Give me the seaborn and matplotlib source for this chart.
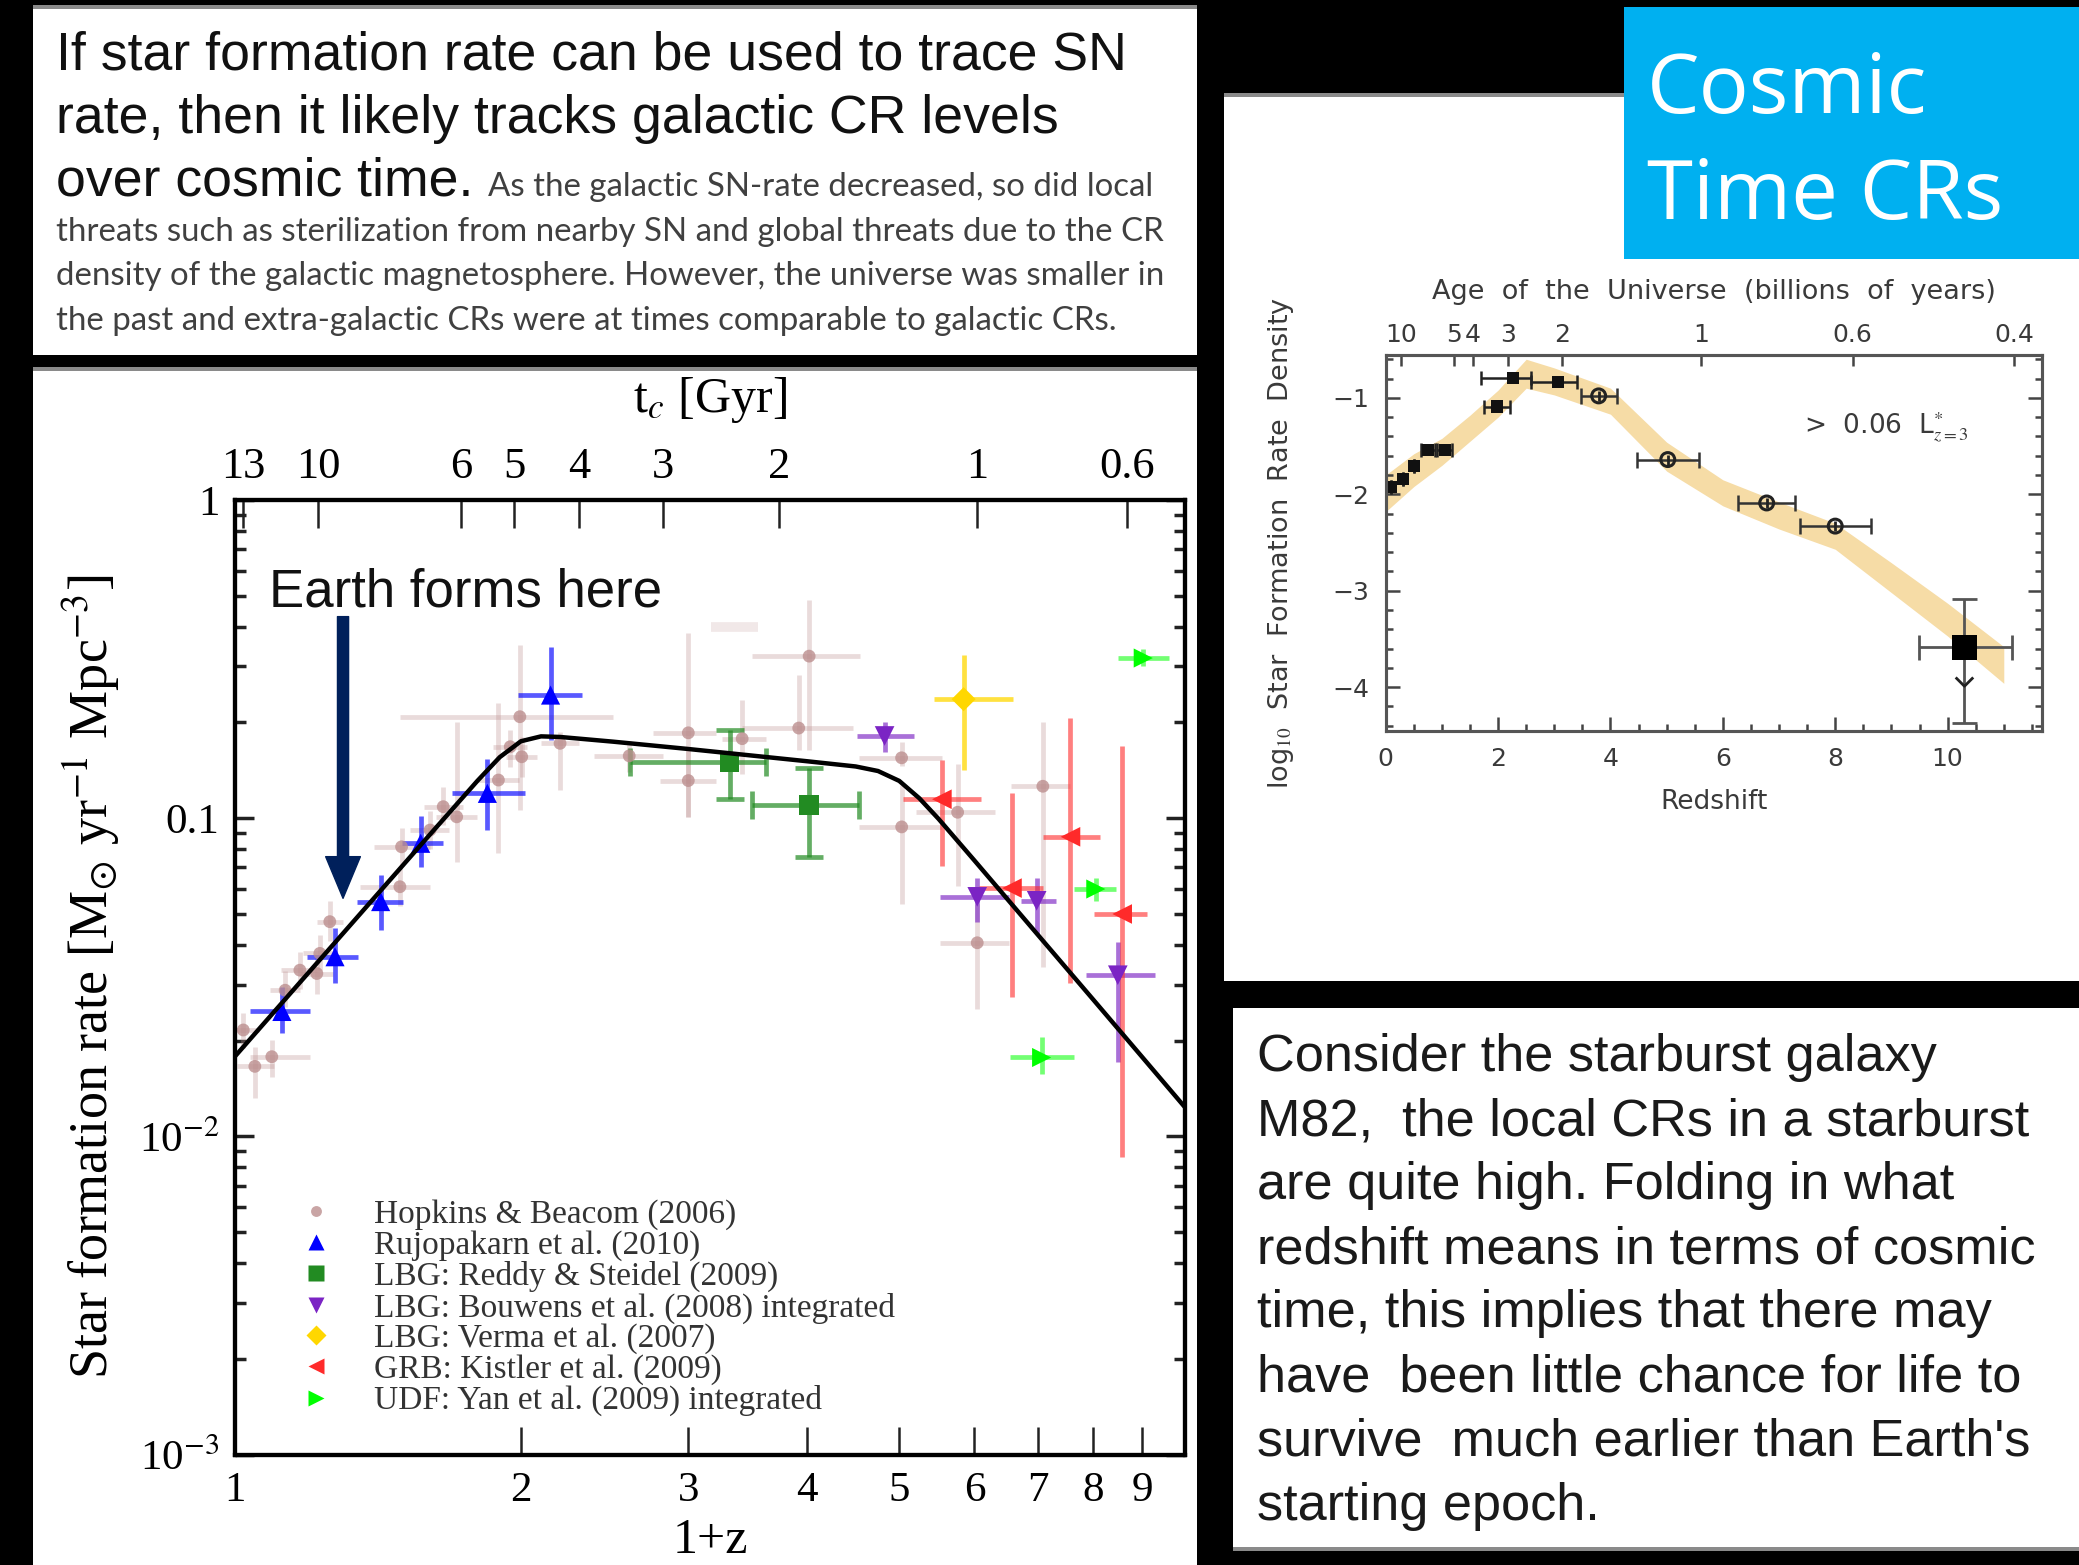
import numpy as np
import pandas as pd
import matplotlib
matplotlib.use("Agg")
import matplotlib.pyplot as plt
import seaborn as sns
from matplotlib.patches import Rectangle
from matplotlib.lines import Line2D
from matplotlib.ticker import FixedLocator, FixedFormatter, NullLocator, MultipleLocator, NullFormatter, LogLocator

plt.rcParams['mathtext.fontset'] = 'stix'

# ---------------- data: main panel (1+z, SFR [Msun/yr/Mpc^3]) ----------------
fit_x = [1.0, 1.2, 1.4, 1.6, 1.8, 1.9, 2.0, 2.1, 2.2, 2.5, 3.0, 4.0, 4.5, 4.75, 5.0, 5.25, 5.5, 6.0, 7.0, 8.0, 9.0, 10.0]
fit_y = [0.0178, 0.0331, 0.0559, 0.088, 0.131, 0.1555, 0.1745, 0.1808, 0.180, 0.174, 0.165, 0.151, 0.1454, 0.1407,
         0.131, 0.1155, 0.0995, 0.0736, 0.0429, 0.0269, 0.0178, 0.0123]

hb_x   = [1.05, 1.094, 1.021, 1.13, 1.171, 1.22, 1.229, 1.259, 1.492, 1.498, 1.605, 1.657, 1.712, 1.995, 1.894,
          1.949, 2.004, 2.199, 2.6, 3.0, 3.0, 3.418, 4.02, 3.92, 5.029, 5.03, 5.76, 7.08, 6.04]
hb_y   = [0.0166, 0.0178, 0.0216, 0.0288, 0.0333, 0.0325, 0.0376, 0.0473, 0.0609, 0.0813, 0.0918, 0.1087, 0.101,
          0.2084, 0.1318, 0.1677, 0.156, 0.1719, 0.157, 0.1855, 0.1313, 0.1778, 0.3231, 0.192, 0.1548, 0.0939,
          0.1044, 0.126, 0.0406]
hb_xlo = [1.005, 1.038, 1.0, 1.09, 1.12, 1.17, 1.18, 1.22, 1.355, 1.40, 1.53, 1.58, 1.63, 1.492, 1.80,
          1.87, 1.93, 2.10, 2.39, 2.755, 2.80, 3.258, 3.50, 3.417, 4.535, 4.535, 5.21, 6.556, 5.52]
hb_xhi = [1.10, 1.20, 1.06, 1.17, 1.22, 1.27, 1.28, 1.30, 1.606, 1.606, 1.68, 1.74, 1.80, 2.50, 1.99,
          2.03, 2.08, 2.30, 2.82, 3.212, 3.212, 3.62, 4.55, 4.468, 5.544, 5.544, 6.31, 7.565, 6.52]
hb_ylo = [0.0132, 0.0154, 0.019, 0.0255, 0.029, 0.028, 0.033, 0.041, 0.053, 0.071, 0.080, 0.095, 0.073,
          0.106, 0.0775, 0.145, 0.135, 0.1227, 0.14, 0.1009, 0.101, 0.138, 0.164, 0.164, 0.1463, 0.0537,
          0.0611, 0.034, 0.0252]
hb_yhi = [0.0191, 0.0201, 0.0245, 0.033, 0.038, 0.037, 0.043, 0.055, 0.070, 0.093, 0.105, 0.125, 0.201,
          0.35, 0.2297, 0.19, 0.18, 0.187, 0.175, 0.3817, 0.164, 0.2345, 0.4867, 0.2825, 0.1737, 0.1268,
          0.1484, 0.2005, 0.0537]
# faint Hopkins & Beacom bar without a visible marker
hbf_x, hbf_y, hbf_xlo, hbf_xhi = [3.35], [0.398], [3.17], [3.55]

ru_x   = [1.121, 1.275, 1.424, 1.569, 1.844, 2.149]
ru_y   = [0.0247, 0.0367, 0.0547, 0.0834, 0.1197, 0.2438]
ru_xlo = [1.038, 1.19, 1.344, 1.498, 1.691, 1.988]
ru_xhi = [1.200, 1.349, 1.504, 1.657, 2.02, 2.317]
ru_ylo = [0.0211, 0.0303, 0.0445, 0.0704, 0.0918, 0.176]
ru_yhi = [0.0295, 0.0451, 0.0663, 0.1016, 0.154, 0.346]

rs_x   = [3.315, 4.02]
rs_y   = [0.1497, 0.110]
rs_xlo = [2.602, 3.50]
rs_xhi = [3.62, 4.535]
rs_ylo = [0.1149, 0.0757]
rs_yhi = [0.1893, 0.1442]

bw_x   = [4.826, 6.04, 6.975, 8.49]
bw_y   = [0.1813, 0.0566, 0.055, 0.0321]
bw_xlo = [4.51, 5.52, 6.714, 7.86]
bw_xhi = [5.185, 6.525, 7.317, 9.30]
bw_ylo = [0.1617, 0.0472, 0.0434, 0.0171]
bw_yhi = [0.2005, 0.0647, 0.0647, 0.0409]

vm_x   = [5.844]
vm_y   = [0.2366]
vm_xlo = [5.44]
vm_xhi = [6.59]
vm_ylo = [0.142]
vm_yhi = [0.326]

ki_x   = [5.544, 6.57, 7.57, 8.58]
ki_y   = [0.1147, 0.0603, 0.0874, 0.050]
ki_xlo = [5.04, 6.07, 7.08, 8.01]
ki_xhi = [6.10, 7.08, 8.13, 9.12]
ki_ylo = [0.0706, 0.0274, 0.0303, 0.00861]
ki_yhi = [0.1525, 0.1197, 0.2062, 0.1688]

ya_x   = [9.03, 8.05, 7.06]
ya_y   = [0.3187, 0.0599, 0.0177]
ya_xlo = [8.49, 7.64, 6.54]
ya_xhi = [9.62, 8.45, 7.63]
ya_ylo = [0.30, 0.055, 0.0157]
ya_yhi = [0.34, 0.065, 0.0206]

x_ticks = [1, 2, 3, 4, 5, 6, 7, 8, 9]
y_ticks = [1e-3, 1e-2, 1e-1, 1]
y_labels = ['10$^{-3}$', '10$^{-2}$', '0.1', '1']
tc_labels = ['13', '10', '6', '5', '4', '3', '2', '1', '0.6']
tc_pos = [1.02, 1.224, 1.732, 1.968, 2.305, 2.82, 3.74, 6.04, 8.68]

legend_labels = ['Hopkins & Beacom (2006)', 'Rujopakarn et al. (2010)', 'LBG: Reddy & Steidel (2009)',
                 'LBG: Bouwens et al. (2008) integrated', 'LBG: Verma et al. (2007)',
                 'GRB: Kistler et al. (2009)', 'UDF: Yan et al. (2009) integrated']

# ---------------- data: right panel (redshift, log10 SFRD) ----------------
band_z  = [0.0, 0.5, 1.0, 1.5, 2.0, 2.5, 3.0, 4.0, 5.0, 6.0, 7.0, 8.0, 9.0, 10.0, 11.0]
band_lo = [-2.18, -1.92, -1.70, -1.45, -1.20, -0.90, -0.97, -1.17, -1.76, -2.12, -2.36, -2.57, -3.02, -3.47, -3.96]
band_hi = [-1.80, -1.58, -1.42, -1.18, -0.92, -0.60, -0.69, -0.90, -1.46, -1.85, -2.08, -2.30, -2.71, -3.13, -3.58]

lowz_z  = [0.1, 0.3, 0.5, 0.75, 1.05, 1.98, 2.27, 3.06]
lowz_y  = [-1.92, -1.84, -1.71, -1.54, -1.54, -1.09, -0.79, -0.84]
lowz_zlo = [0.1, 0.3, 0.5, 0.62, 0.92, 1.75, 1.69, 2.59]
lowz_zhi = [0.1, 0.3, 0.5, 0.88, 1.18, 2.22, 2.59, 3.41]

hiz_z   = [3.79, 5.02, 6.78, 8.0]
hiz_y   = [-0.98, -1.64, -2.09, -2.33]
hiz_zlo = [3.47, 4.47, 6.27, 7.37]
hiz_zhi = [4.12, 5.57, 7.29, 8.63]

z10_z, z10_y = [10.3], [-3.585]
z10_zlo, z10_zhi = [9.49], [11.14]
z10_ylo, z10_yhi = [-4.37], [-3.09]
z10_limit = [-3.99]

age_labels = ['10', '5', '4', '3', '2', '1', '0.6', '0.4']
age_pos = [0.275, 1.216, 1.545, 2.17, 3.14, 5.61, 8.31, 11.18]

# ---------------- text ----------------
intro_big = ['If star formation rate can be used to trace SN',
             'rate, then it likely tracks galactic CR levels',
             'over cosmic time.']
intro_small = ['As the galactic SN-rate decreased, so did local',
               'threats such as sterilization from nearby SN and global threats due to the CR',
               'density of the galactic magnetosphere. However, the universe was smaller in',
               'the past and extra-galactic CRs were at times comparable to galactic CRs.']
m82_lines = ['Consider the starburst galaxy',
             'M82,  the local CRs in a starburst',
             'are quite high. Folding in what',
             'redshift means in terms of cosmic',
             'time, this implies that there may',
             'have  been little chance for life to',
             'survive  much earlier than Earth\'s',
             'starting epoch.']

# ---------------- figure ----------------
W, H = 2079, 1565
fig = plt.figure(figsize=(W / 100, H / 100), dpi=100, facecolor='black')


def fx(px):
    return px / W


def fy(py):
    return 1 - py / H


def panel(x0, y0, x1, y1, color='white', z=-5):
    fig.patches.append(Rectangle((fx(x0), fy(y1)), (x1 - x0) / W, (y1 - y0) / H,
                                 transform=fig.transFigure, color=color, zorder=z, lw=0))


panel(33, 7, 1197, 355)
panel(33, 369, 1197, 1565)
panel(1224, 95, 2079, 981)
panel(1233, 1008, 2079, 1549)
for (x0, y0, x1, y1) in [(33, 5, 1197, 9), (33, 367, 1197, 371), (1224, 93, 2079, 97), (1233, 1547, 2079, 1551)]:
    panel(x0, y0, x1, y1, color='#8a8a8a', z=-4)
panel(1624, 7, 2079, 259, color='#00b0f0', z=-3)

# text blocks
for i, s in enumerate(intro_big):
    fig.text(fx(56), fy(69 + 63.5 * i), s, fontsize=38.6, family='Liberation Sans', color='#111111',
             va='baseline')
fig.text(fx(488), fy(196), intro_small[0], fontsize=23.8, family='Lato', color='#404040', va='baseline')
for i, s in enumerate(intro_small[1:]):
    fig.text(fx(56), fy(241 + 44.3 * i), s, fontsize=23.8, family='Lato', color='#404040', va='baseline')

fig.text(fx(1647), fy(113), 'Cosmic', fontsize=60, family='Open Sans', color='white', va='baseline')
fig.text(fx(1647), fy(219), 'Time CRs', fontsize=60, family='Open Sans', color='white', va='baseline')

for i, s in enumerate(m82_lines):
    fig.text(fx(1257), fy(1071 + 64.1 * i), s, fontsize=37.6, family='Liberation Sans', color='#1a1a1a',
             va='baseline')

# ---------------- main axes ----------------
ax = fig.add_axes([234.7 / W, 1 - 1454.6 / H, 950.7 / W, 954.6 / H])
ax.set_facecolor('white')
ax.set_xscale('log')
ax.set_yscale('log')


def ebars(a, x, y, xlo, xhi, ylo, yhi, color, alpha, lw, cap=0, z=2):
    x = np.asarray(x, float); y = np.asarray(y, float)
    xe = [np.clip(x - np.asarray(xlo), 0, None), np.clip(np.asarray(xhi) - x, 0, None)]
    ye = [np.clip(y - np.asarray(ylo), 0, None), np.clip(np.asarray(yhi) - y, 0, None)]
    a.errorbar(x, y, xerr=xe, yerr=ye, fmt='none', ecolor=color, alpha=alpha, elinewidth=lw,
               capsize=cap, capthick=lw, zorder=z)


series = [
    (hb_x, hb_y, hb_xlo, hb_xhi, hb_ylo, hb_yhi, '#bc8f8f', 'o', 85, 0.32, 0.8, 0),
    (ru_x, ru_y, ru_xlo, ru_xhi, ru_ylo, ru_yhi, '#0000ff', '^', 190, 0.65, 1.0, 0),
    (rs_x, rs_y, rs_xlo, rs_xhi, rs_ylo, rs_yhi, '#228b22', 's', 200, 0.7, 1.0, 10),
    (bw_x, bw_y, bw_xlo, bw_xhi, bw_ylo, bw_yhi, '#7b24c4', 'v', 200, 0.65, 1.0, 0),
    (vm_x, vm_y, vm_xlo, vm_xhi, vm_ylo, vm_yhi, '#ffd700', 'D', 150, 0.75, 1.0, 0),
    (ki_x, ki_y, ki_xlo, ki_xhi, ki_ylo, ki_yhi, '#ff2a2a', '<', 200, 0.6, 1.0, 0),
    (ya_x, ya_y, ya_xlo, ya_xhi, ya_ylo, ya_yhi, '#00ff00', '>', 190, 0.55, 1.0, 0),
]
ebars(ax, hbf_x, hbf_y, hbf_xlo, hbf_xhi, hbf_y, hbf_y, '#bc8f8f', 0.2, 7, z=1.9)
for k, (x, y, xlo, xhi, ylo, yhi, col, mk, sz, ea, ma, cap) in enumerate(series):
    ebars(ax, x, y, xlo, xhi, ylo, yhi, col, ea, 3.4, cap=cap, z=2 + k * 0.1)
    df = pd.DataFrame({'x': x, 'y': y})
    sns.scatterplot(data=df, x='x', y='y', ax=ax, marker=mk, color=col, s=sz, edgecolor='none',
                    alpha=ma, legend=False, zorder=3 + k * 0.1)

fit_df = pd.DataFrame({'x': fit_x, 'y': fit_y})
sns.lineplot(data=fit_df, x='x', y='y', ax=ax, color='black', lw=3.2, sort=False, estimator=None, zorder=5)

ax.set_xlim(1, 10)
ax.set_ylim(1e-3, 1)
ax.xaxis.set_major_locator(FixedLocator(x_ticks))
ax.xaxis.set_major_formatter(FixedFormatter([str(t) for t in x_ticks]))
ax.xaxis.set_minor_locator(NullLocator())
ax.yaxis.set_major_locator(FixedLocator(y_ticks))
ax.yaxis.set_major_formatter(FixedFormatter(y_labels))
ax.yaxis.set_minor_locator(LogLocator(base=10, subs=np.arange(2, 10)))
ax.yaxis.set_minor_formatter(NullFormatter())
ax.tick_params(axis='x', which='major', direction='in', length=20, width=1.8, top=False, bottom=True,
               labelsize=31, pad=12, labelfontfamily='Liberation Serif', color='#222222')
ax.tick_params(axis='y', which='major', direction='in', length=14, width=2.5, left=True, right=True,
               labelsize=31, pad=11, labelfontfamily='Liberation Serif', color='#222222')
ax.tick_params(axis='y', which='minor', direction='in', length=8, width=2.5, left=True, right=True,
               color='#222222')
for sp in ax.spines.values():
    sp.set_linewidth(3)
    sp.set_color('black')

ax.set_xlabel('1+z', fontsize=36, family='Liberation Serif')
ax.xaxis.set_label_coords(0.5, -0.066)
ax.set_ylabel('Star formation rate [M$_{\\odot}$ yr$^{-1}$ Mpc$^{-3}$]', fontsize=39, family='Liberation Serif')
ax.yaxis.set_label_coords(-0.118, 0.5)

ax.text(0.036, 0.888, 'Earth forms here', transform=ax.transAxes, fontsize=38, family='Liberation Sans',
        color='#111111', va='baseline', zorder=6)
ax.annotate('', xy=(1.30, 0.056), xytext=(1.30, 0.43),
            arrowprops=dict(facecolor='#00205b', edgecolor='#00205b', width=8, headwidth=25, headlength=30),
            zorder=6)

handles = []
for (x, y, xlo, xhi, ylo, yhi, col, mk, sz, ea, ma, cap) in series:
    handles.append(Line2D([], [], ls='none', marker=mk, color=col, markersize=np.sqrt(sz) * 0.85,
                          markeredgecolor='none', alpha=ma))
leg = ax.legend(handles, legend_labels, loc='lower left', bbox_to_anchor=(0.0676, 0.04), frameon=False,
                borderpad=0, borderaxespad=0, handlelength=1.0, handletextpad=1.25, labelspacing=0.0,
                prop={'family': 'Liberation Serif', 'size': 24})
for t in leg.get_texts():
    t.set_color('#333333')

axt = ax.twiny()
axt.set_xscale('log')
axt.set_xlim(1, 10)
axt.xaxis.set_major_locator(FixedLocator(tc_pos))
axt.xaxis.set_major_formatter(FixedFormatter(tc_labels))
axt.xaxis.set_minor_locator(NullLocator())
axt.tick_params(axis='x', which='major', direction='in', length=20, width=1.8, labelsize=32, pad=9,
                labelfontfamily='Liberation Serif', color='#222222')
axt.set_xlabel('t$_c$ [Gyr]', fontsize=36, family='Liberation Serif')
axt.xaxis.set_label_coords(0.5, 1.092)
for sp in axt.spines.values():
    sp.set_linewidth(3)

# ---------------- right axes ----------------
axr = fig.add_axes([1385.7 / W, 1 - 730.6 / H, 656.3 / W, 375.6 / H])
axr.set_facecolor('white')
axr.fill_between(band_z, band_lo, band_hi, color='#f6dca6', lw=0, zorder=1)

lowz_z_a = np.array(lowz_z)
axr.errorbar(lowz_z, lowz_y, xerr=[lowz_z_a - np.array(lowz_zlo), np.array(lowz_zhi) - lowz_z_a],
             fmt='none', ecolor='#222222', elinewidth=1.8, capsize=5, capthick=1.8, zorder=2)
hiz_z_a = np.array(hiz_z)
axr.errorbar(hiz_z, hiz_y, xerr=[hiz_z_a - np.array(hiz_zlo), np.array(hiz_zhi) - hiz_z_a],
             fmt='none', ecolor='#333333', elinewidth=1.8, capsize=6, capthick=1.8, zorder=2)
axr.errorbar(z10_z, z10_y, xerr=[[z10_z[0] - z10_zlo[0]], [z10_zhi[0] - z10_z[0]]],
             yerr=[[z10_y[0] - z10_ylo[0]], [z10_yhi[0] - z10_y[0]]],
             fmt='none', ecolor='#555555', elinewidth=2, capsize=9, capthick=2, zorder=2)

sns.scatterplot(x=lowz_z, y=lowz_y, ax=axr, marker='s', color='#111111', s=75, edgecolor='none',
                legend=False, zorder=3)
sns.scatterplot(x=hiz_z, y=hiz_y, ax=axr, marker='o', facecolor='none', edgecolor='#222222', s=100,
                linewidth=2.2, legend=False, zorder=3)
sns.scatterplot(x=hiz_z, y=hiz_y, ax=axr, marker='|', color='#222222', s=60,
                linewidth=2, legend=False, zorder=3)
sns.scatterplot(x=z10_z, y=z10_y, ax=axr, marker='s', color='black', s=330, edgecolor='none',
                legend=False, zorder=4)
sns.scatterplot(x=z10_z, y=z10_limit, ax=axr, marker=[(-1, 1), (0, 0), (1, 1)], facecolor='none',
                edgecolor='#222222', s=160, linewidth=2, legend=False, zorder=4)

rfont = 'DejaVu Sans'
axr.set_xlim(0, 11.68)
axr.set_ylim(-4.45, -0.556)
axr.xaxis.set_major_locator(MultipleLocator(2))
axr.xaxis.set_minor_locator(MultipleLocator(0.5))
axr.yaxis.set_major_locator(MultipleLocator(1))
axr.yaxis.set_minor_locator(MultipleLocator(0.2))
axr.tick_params(which='major', direction='in', length=10, width=1.8, color='#444444', top=False, right=True,
                labelsize=18, labelcolor='#3a3a3a', labelfontfamily=rfont)
axr.tick_params(axis='x', which='major', pad=12)
axr.tick_params(axis='y', which='major', pad=12)
axr.tick_params(which='minor', direction='in', length=5, width=1.8, color='#444444', top=False, right=True)
for sp in axr.spines.values():
    sp.set_linewidth(2.2)
    sp.set_color('#555555')
axr.set_xlabel('Redshift', fontsize=19, family=rfont, color='#3a3a3a')
axr.xaxis.set_label_coords(0.5, -0.155)
axr.set_ylabel('log$_{10}$  Star  Formation  Rate  Density', fontsize=19.5, family=rfont, color='#3a3a3a')
axr.yaxis.set_label_coords(-0.137, 0.5)
axr.text(7.45, -1.31, '>  0.06  L$^{*}_{z=3}$', fontsize=19, family=rfont, color='#3a3a3a',
         va='center')

axrt = axr.twiny()
axrt.set_xlim(0, 11.68)
axrt.xaxis.set_major_locator(FixedLocator(age_pos))
axrt.xaxis.set_major_formatter(FixedFormatter(age_labels))
axrt.xaxis.set_minor_locator(NullLocator())
axrt.tick_params(axis='x', direction='in', length=8, width=1.8, color='#444444', labelsize=18,
                 labelcolor='#3a3a3a', pad=6, labelfontfamily=rfont)
axrt.set_xlabel('Age  of  the  Universe  (billions  of  years)', fontsize=19.5, family=rfont,
                color='#3a3a3a')
axrt.xaxis.set_label_coords(0.5, 1.15)
for sp in axrt.spines.values():
    sp.set_linewidth(2.2)
    sp.set_color('#555555')

fig.savefig('out.png', dpi=100, facecolor='black')
